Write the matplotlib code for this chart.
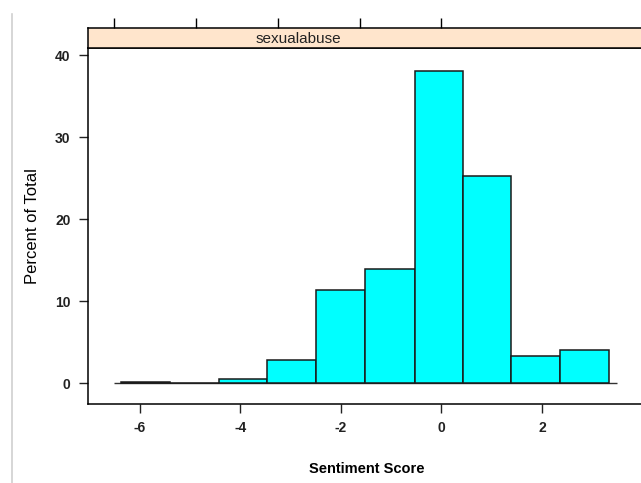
import numpy as np
import matplotlib
matplotlib.use('Agg')
import matplotlib.pyplot as plt
from matplotlib.lines import Line2D

plt.rcParams['font.family'] = ['Liberation Sans', 'DejaVu Sans']
plt.rcParams['axes.unicode_minus'] = False

# histogram of sentiment scores (lattice style)
bin_edges = [-6.37, -5.40, -4.43, -3.46, -2.49, -1.52, -0.53, 0.42, 1.39, 2.36, 3.34]
percent = [0.15, 0.0, 0.5, 2.8, 11.4, 13.9, 38.1, 25.3, 3.3, 4.0]
panel_name = 'sexualabuse'
x_ticks = [-6, -4, -2, 0, 2]
y_ticks = [0, 10, 20, 30, 40]
top_ticks = [-6.51, -4.88, -3.25, -1.62, 0.0]

W, H = 641, 483
fig = plt.figure(figsize=(W / 100, H / 100), dpi=100)

def px_axes(l, r, t, b):
    return fig.add_axes([l / W, 1 - b / H, (r - l) / W, (b - t) / H])

ax = px_axes(88, 645, 48, 404)
strip = px_axes(88, 645, 28, 48)

lefts = np.array(bin_edges[:-1])
widths = np.diff(bin_edges)
ax.bar(lefts, percent, width=widths, align='edge', color='#00ffff',
       edgecolor='#1a1a1a', linewidth=1.1, zorder=2)
ax.hlines(0, bin_edges[0] - 0.14, bin_edges[-1] + 0.15, color='#333333',
          lw=1.0, zorder=1)

ax.set_xlim(-7.03, 4.05)
ax.set_ylim(-2.56, 40.9)
ax.set_xticks(x_ticks)
ax.set_yticks(y_ticks)
ax.spines['right'].set_visible(False)
for s in ['left', 'bottom', 'top']:
    ax.spines[s].set_linewidth(1.1)
ax.tick_params(direction='out', length=6.5, width=1.0, pad=6,
               labelsize=10, colors='#222222')
for lab in ax.get_xticklabels() + ax.get_yticklabels():
    lab.set_fontweight('bold')
ax.set_ylabel('Percent of Total', fontsize=12, labelpad=11)
ax.set_xlabel('Sentiment Score', fontsize=10.5, fontweight='bold', labelpad=19)

strip.set_facecolor('#ffe5cc')
strip.set_xlim(ax.get_xlim())
strip.set_ylim(0, 1)
strip.set_yticks([])
strip.set_xticks(top_ticks)
strip.xaxis.tick_top()
strip.tick_params(axis='x', direction='out', length=7.5, width=1.0,
                  labeltop=False, labelbottom=False)
strip.spines['right'].set_visible(False)
for s in ['left', 'bottom', 'top']:
    strip.spines[s].set_linewidth(1.1)
fig.text(298 / W, 1 - 39 / H, panel_name, ha='center', va='center',
         fontsize=11, color='#222222')

# light frame line on the left edge of the screenshot
fig.add_artist(Line2D([12 / W, 12 / W], [0, 1 - 14 / H],
                      color='#d0d0d0', lw=1.2, transform=fig.transFigure))

fig.savefig('out.png', dpi=100)
